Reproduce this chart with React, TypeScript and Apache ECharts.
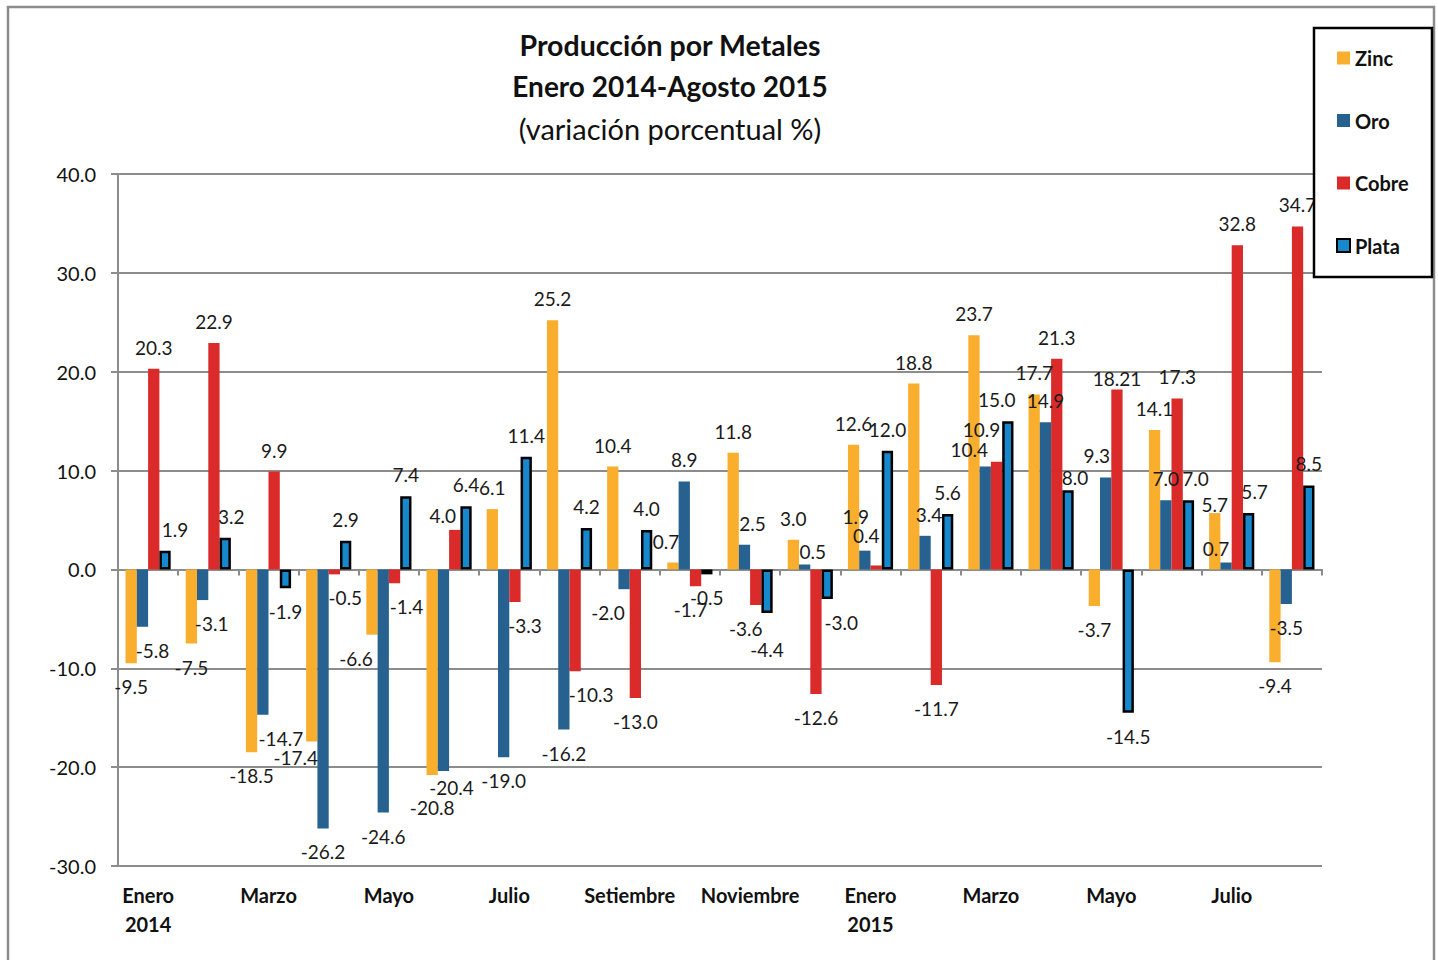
import React, { useEffect, useRef } from "react";
import * as echarts from "echarts";

const months = [
  "Enero\n2014", "Febrero", "Marzo", "Abril", "Mayo", "Junio", "Julio", "Agosto",
  "Setiembre", "Octubre", "Noviembre", "Diciembre",
  "Enero\n2015", "Febrero", "Marzo", "Abril", "Mayo", "Junio", "Julio", "Agosto",
];

const zinc = [-9.5, -7.5, -18.5, -17.4, -6.6, -20.8, 6.1, 25.2, 10.4, 0.7, 11.8, 3.0, 12.6, 18.8, 23.7, 17.7, -3.7, 14.1, 5.7, -9.4];
const oro = [-5.8, -3.1, -14.7, -26.2, -24.6, -20.4, -19.0, -16.2, -2.0, 8.9, 2.5, 0.5, 1.9, 3.4, 10.4, 14.9, 9.3, 7.0, 0.7, -3.5];
const cobre = [20.3, 22.9, 9.9, -0.5, -1.4, 4.0, -3.3, -10.3, -13.0, -1.7, -3.6, -12.6, 0.4, -11.7, 10.9, 21.3, 18.21, 17.3, 32.8, 34.7];
const plata = [1.9, 3.2, -1.9, 2.9, 7.4, 6.4, 11.4, 4.2, 4.0, -0.5, -4.4, -3.0, 12.0, 5.6, 15.0, 8.0, -14.5, 7.0, 5.7, 8.5];

const yTicks = { min: -30, max: 40, interval: 10 };

// label nudges (pixels) as in the original, keyed by month index
const labelNudges: Record<string, Record<number, [number, number]>> = {
  Zinc: { 3: [-16, -7], 4: [-16, 0], 5: [0, 9], 9: [-7, 0], 18: [0, 13] },
  Oro: {
    0: [10, 0], 1: [9, 0], 2: [18, 0], 5: [8, -7], 8: [-16, 0], 10: [8, 0],
    11: [8, 9], 12: [-9, -13], 13: [4, 0], 14: [-16, 4], 16: [-9, 0], 18: [-10, 7],
  },
  Cobre: {
    3: [11, 0], 4: [12, 0], 5: [-12, 7], 6: [10, 0], 7: [16, 0], 9: [-5, 0],
    10: [-10, 0], 12: [-10, -8], 14: [-15, -11], 16: [0, 11],
  },
  Plata: {
    0: [10, 0], 1: [6, 0], 10: [0, 13], 11: [14, 0], 14: [-11, 0], 15: [7, 9],
    17: [7, 0], 18: [6, 0],
  },
};

const FONT = "Lato, 'Noto Sans', sans-serif";
const GRAY = "#8c8c8c";

function fmt(v: number): string {
  return Math.abs(v * 10 - Math.round(v * 10)) < 1e-9 ? v.toFixed(1) : String(v);
}

function makeData(name: string, values: number[]) {
  const nudges = labelNudges[name] || {};
  return values.map((v, i) => ({
    value: v,
    label: {
      position: v < 0 ? "bottom" : "top",
      distance: v < 0 ? 14 : 12,
      offset: nudges[i] || [0, 0],
    },
  }));
}

export default function App() {
  const ref = useRef<HTMLDivElement>(null);

  useEffect(() => {
    if (!ref.current) return;
    const chart = echarts.init(ref.current, undefined, { renderer: "svg" });

    const label = {
      show: true,
      fontSize: 19,
      fontFamily: FONT,
      color: "#1a1a1a",
      formatter: (p: any) => fmt(p.value),
    };

    const mk = (name: string, values: number[], color: string, extra: any = {}) => ({
      name,
      type: "bar",
      xAxisIndex: 0,
      yAxisIndex: 0,
      barGap: "0%",
      barCategoryGap: "25%",
      data: makeData(name, values),
      itemStyle: { color, ...extra },
      label,
    });

    const titleStyle = (text: string, bold: boolean, size: number) => ({
      text,
      fontSize: size,
      fontWeight: bold ? "bold" : "normal",
      fontFamily: FONT,
      fill: "#111",
      textAlign: "center",
      textVerticalAlign: "middle",
    });

    chart.setOption({
      animation: false,
      backgroundColor: "#ffffff",
      textStyle: { fontFamily: FONT },
      grid: { left: 118, right: 116, top: 174, bottom: 94, containLabel: false },
      legend: {
        orient: "vertical",
        left: 1336,
        top: 48,
        padding: 0,
        itemWidth: 13,
        itemHeight: 13,
        itemGap: 42.5,
        icon: "rect",
        z: 110,
        textStyle: { fontSize: 20, fontWeight: "bold", color: "#111", fontFamily: FONT },
        data: ["Zinc", "Oro", "Cobre", "Plata"],
      },
      xAxis: [
        {
          type: "category",
          data: months,
          position: "bottom",
          axisLine: { show: false, onZero: false },
          axisTick: { show: false },
          axisLabel: {
            interval: 1,
            margin: 14,
            fontSize: 20,
            fontWeight: "bold",
            color: "#111",
            fontFamily: FONT,
            lineHeight: 29,
          },
          splitLine: { show: false },
        },
        {
          type: "category",
          data: months,
          position: "bottom",
          axisLine: { show: true, onZero: true, lineStyle: { color: GRAY, width: 2 } },
          axisTick: { show: true, interval: 0, length: 6, lineStyle: { color: GRAY, width: 2 } },
          axisLabel: { show: false },
          splitLine: { show: false },
        },
      ],
      yAxis: {
        type: "value",
        min: yTicks.min,
        max: yTicks.max,
        interval: yTicks.interval,
        axisLine: { show: true, lineStyle: { color: GRAY, width: 2 } },
        axisTick: { show: true, length: 7, lineStyle: { color: GRAY, width: 2 } },
        axisLabel: {
          margin: 22,
          fontSize: 20,
          color: "#111",
          fontFamily: FONT,
          formatter: (v: number) => v.toFixed(1),
        },
        splitLine: { show: true, lineStyle: { color: GRAY, width: 2 } },
      },
      graphic: [
        {
          type: "rect",
          z: 0,
          silent: true,
          shape: { x: 8, y: 7, width: 1426, height: 1000 },
          style: { fill: "none", stroke: GRAY, lineWidth: 2.5 },
        },
        {
          type: "rect",
          z: 100,
          silent: true,
          shape: { x: 1314, y: 28, width: 118, height: 249 },
          style: { fill: "#fff", stroke: "#000", lineWidth: 2.5 },
        },
        { type: "text", x: 670, y: 45, style: titleStyle("Producción por Metales", true, 28.5) },
        { type: "text", x: 670, y: 86, style: titleStyle("Enero 2014-Agosto 2015", true, 28) },
        { type: "text", x: 670, y: 128, style: titleStyle("(variación porcentual %)", false, 29) },
      ],
      series: [
        mk("Zinc", zinc, "#F9AE2E"),
        mk("Oro", oro, "#27618F"),
        mk("Cobre", cobre, "#DA2A2A"),
        mk("Plata", plata, "#1788CC", { borderColor: "#000", borderWidth: 2.5 }),
      ],
    });

    return () => chart.dispose();
  }, []);

  return (
    <div
      ref={ref}
      style={{ position: "fixed", left: 0, top: 0, width: 1438, height: 960 }}
    />
  );
}
